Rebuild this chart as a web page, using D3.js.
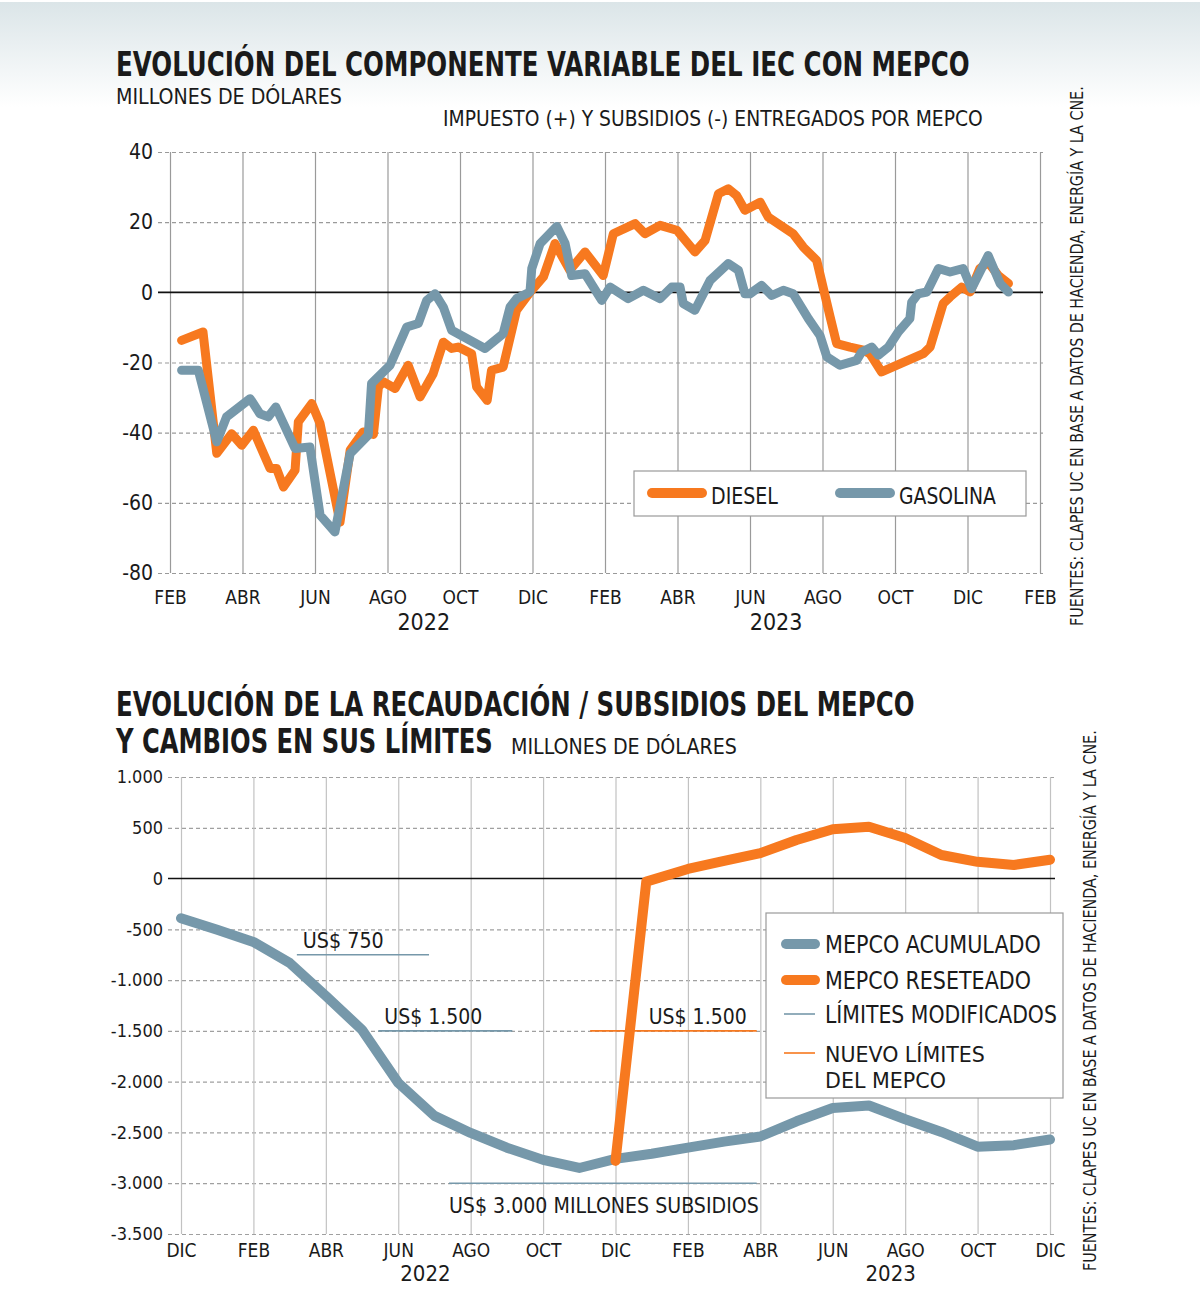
<!DOCTYPE html>
<html>
<head>
<meta charset="utf-8">
<script src="https://cdn.jsdelivr.net/npm/d3@7"></script>
<style>
	body { margin: 0; background: #fff; }
	svg text { font-family: 'Liberation Sans Narrow', 'DejaVu Sans Condensed', 'Roboto', sans-serif; fill: #1a1a1a; }
</style>
</head>
<body>
<svg id="chart" width="1200" height="1315"></svg>
<script>
const orange = '#f7791f'
const grey = '#7698aa'
const sourceText = 'FUENTES: CLAPES UC EN BASE A DATOS DE HACIENDA, ENERGÍA Y LA CNE.'

// top chart: months counted from feb 2022
const topTicks = [0, 2, 4, 6, 8, 10, 12, 14, 16, 18, 20, 22, 24]
const topMonthLabels = ['FEB', 'ABR', 'JUN', 'AGO', 'OCT', 'DIC', 'FEB', 'ABR', 'JUN', 'AGO', 'OCT', 'DIC', 'FEB']
const topYears = ['2022', '2023']
const topYValues = [-80, -60, -40, -20, 0, 20, 40]

const dieselMonth = [0.32, 0.91, 1.29, 1.70, 1.98, 2.30, 2.76, 2.94, 3.13, 3.45, 3.54, 3.91, 4.14, 4.69, 4.97, 5.33, 5.61, 5.75, 5.88, 6.21, 6.57, 6.90, 7.26, 7.54, 7.77, 7.95, 8.32, 8.46, 8.75, 8.87, 9.19, 9.56, 9.93, 10.30, 10.62, 11.03, 11.45, 11.95, 12.23, 12.83, 13.10, 13.52, 13.98, 14.48, 14.76, 15.13, 15.40, 15.63, 15.86, 16.28, 16.50, 17.19, 17.47, 17.84, 18.21, 18.39, 18.76, 19.13, 19.31, 19.63, 20.78, 20.97, 21.33, 21.52, 21.84, 22.07, 22.34, 22.57, 22.85, 23.13]
const dieselValue = [-13.7, -11.3, -45.9, -40.3, -43.6, -39.3, -50.2, -50.2, -55.5, -50.7, -36.9, -31.7, -37.4, -65.5, -45, -39.8, -40.5, -27, -25.5, -27.4, -20.8, -29.8, -23.2, -14.2, -16, -15.6, -17.5, -27, -30.8, -22.2, -21.3, -5.1, 0, 4.4, 13.9, 6.3, 11.5, 4.8, 16.7, 19.6, 16.7, 19.1, 17.7, 11.5, 14.8, 28.1, 29.5, 27.6, 23.4, 25.7, 21.5, 16.7, 12.9, 9.1, -7, -14.6, -15.6, -16.5, -17.5, -22.7, -17.5, -15.6, -3.2, -1.3, 1.5, 0.1, 6.8, 8.6, 4.8, 2.5]

const gasolinaMonth = [0.32, 0.78, 1.29, 1.56, 2.21, 2.48, 2.71, 2.92, 3.45, 3.86, 4.14, 4.55, 4.97, 5.47, 5.56, 6.07, 6.53, 6.85, 7.08, 7.31, 7.54, 7.77, 8.69, 9.19, 9.38, 9.56, 9.93, 9.98, 10.21, 10.67, 10.90, 11.08, 11.45, 11.91, 12.14, 12.64, 13.06, 13.52, 13.84, 14.07, 14.16, 14.48, 14.90, 15.40, 15.68, 15.86, 16.00, 16.32, 16.60, 16.92, 17.19, 17.61, 17.93, 18.12, 18.48, 18.94, 19.08, 19.36, 19.54, 19.82, 20.09, 20.41, 20.46, 20.64, 20.88, 21.20, 21.52, 21.88, 22.11, 22.57, 22.90, 23.13]
const gasolinaValue = [-22.2, -22.2, -42.6, -35.5, -30.3, -34.6, -35.5, -32.7, -44.5, -44.1, -63.5, -68.3, -46, -40.7, -26, -20.8, -9.9, -8.9, -2.3, -0.4, -4.2, -10.8, -16, -11.8, -4.2, -1.8, 0.1, 6.8, 13.9, 18.8, 13.9, 4.8, 5.3, -2.3, 1.5, -1.8, 0.6, -1.8, 1.5, 1.5, -3.2, -5.1, 3.4, 8.2, 6.3, -0.4, -0.4, 2, -0.9, 0.6, -0.4, -7.5, -12.3, -18.4, -20.8, -19.4, -17, -15.6, -17.9, -15.6, -11.3, -7.5, -2.8, -0.4, 0.1, 6.8, 5.8, 6.8, 1, 10.5, 2.5, 0.1]

// bottom chart: months counted from dic 2021
const botTicks = [0, 2, 4, 6, 8, 10, 12, 14, 16, 18, 20, 22, 24]
const botMonthLabels = ['DIC', 'FEB', 'ABR', 'JUN', 'AGO', 'OCT', 'DIC', 'FEB', 'ABR', 'JUN', 'AGO', 'OCT', 'DIC']
const botYears = ['2022', '2023']
const botYValues = [-3500, -3000, -2500, -2000, -1500, -1000, -500, 0, 500, 1000]

const acumuladoMonth = [0, 1, 2, 3, 4, 5, 6, 7, 8, 9, 10, 11, 12, 13, 14, 15, 16, 17, 18, 19, 20, 21, 22, 23, 24]
const mepcoAcumulado = [-390, -505, -624, -830, -1155, -1490, -2012, -2337, -2505, -2650, -2770, -2850, -2760, -2710, -2650, -2590, -2540, -2390, -2260, -2235, -2370, -2495, -2640, -2625, -2570]
const reseteadoMonth = [12, 12.85, 14, 15, 16, 17, 18, 19, 20, 21, 22, 23, 24]
const mepcoReseteado = [-2780, -30, 95, 175, 250, 380, 485, 510, 400, 232, 165, 134, 185]

const limitLabels = ['US$ 750', 'US$ 1.500', 'US$ 1.500', 'US$ 3.000 MILLONES SUBSIDIOS']
const limitValues = [-750, -1500, -1500, -3000]
const limitFrom = [3.2, 5.45, 11.3, 7.4]
const limitTo = [6.85, 9.15, 15.9, 15.9]
const limitKind = ['modificado', 'modificado', 'nuevo', 'modificado']

const svg = d3.select('#chart')

// soft band behind the first title
const grad = svg.append('defs').append('linearGradient')
	.attr('id', 'band')
	.attr('x1', 0).attr('y1', 0).attr('x2', 0).attr('y2', 1);
grad.append('stop').attr('offset', '0%').attr('stop-color', '#dbe5e8');
grad.append('stop').attr('offset', '100%').attr('stop-color', '#ffffff');
svg.append('rect')
	.attr('x', 0).attr('y', 2)
	.attr('width', 1200).attr('height', 105)
	.attr('fill', 'url(#band)');

function styleGrid(g, colour, dashed) {
	g.select('.domain').remove();
	g.selectAll('.tick line')
		.attr('stroke', colour)
		.attr('stroke-width', 1.2)
		.attr('stroke-dasharray', dashed ? '4,3' : null);
}

// squeeze a text horizontally (about its anchor) to the width it has in the print
function fit(sel, w) {
	const n = sel.node().getComputedTextLength();
	const x0 = +sel.attr('x') || 0;
	const prev = sel.attr('transform') || '';
	sel.attr('transform', `${prev} translate(${x0},0) scale(${w / n},1) translate(${-x0},0)`);
	return sel;
}

function drawTop() {
	const x = d3.scaleLinear().domain([0, 24]).range([170, 1040]);
	const y = d3.scaleLinear().domain([-80, 40]).range([573, 152]);
	const g = svg.append('g');

	fit(svg.append('text').attr('x', 116).attr('y', 76)
		.attr('font-size', 34).attr('font-weight', 'bold')
		.text('EVOLUCIÓN DEL COMPONENTE VARIABLE DEL IEC CON MEPCO'), 854);
	fit(svg.append('text').attr('x', 116).attr('y', 104)
		.attr('font-size', 22)
		.text('MILLONES DE DÓLARES'), 226);
	fit(svg.append('text').attr('x', 443).attr('y', 126)
		.attr('font-size', 22)
		.text('IMPUESTO (+) Y SUBSIDIOS (-) ENTREGADOS POR MEPCO'), 540);

	// horizontal dashed grid
	g.append('g')
		.attr('transform', 'translate(158, 0)')
		.call(d3.axisLeft(y).tickValues(topYValues.filter(d => d !== 0)).tickSize(-(1043 - 158)).tickFormat(''))
		.call(gg => styleGrid(gg, '#9a9a9a', true));

	// vertical grid + month labels
	const xAxis = g.append('g')
		.attr('transform', `translate(0, ${y(-80)})`)
		.call(d3.axisBottom(x).tickValues(topTicks).tickSize(-(y(-80) - y(40)))
			.tickPadding(18).tickFormat((d, i) => topMonthLabels[i]))
		.call(gg => styleGrid(gg, '#9a9a9a', false));
	xAxis.selectAll('text').attr('font-size', 19).attr('fill', '#1a1a1a');

	const yAxis = g.append('g')
		.attr('transform', 'translate(158, 0)')
		.call(d3.axisLeft(y).tickValues(topYValues).tickSize(0).tickPadding(5).tickFormat(d => String(d)));
	yAxis.select('.domain').remove();
	yAxis.selectAll('text').attr('font-size', 21).attr('fill', '#1a1a1a');

	g.append('line')
		.attr('x1', 158).attr('x2', 1043)
		.attr('y1', y(0)).attr('y2', y(0))
		.attr('stroke', '#111').attr('stroke-width', 1.6);

	g.selectAll('.year')
		.data(topYears)
		.enter().append('text')
			.attr('x', (d, i) => x(i === 0 ? 7 : 16.72))
			.attr('y', 630)
			.attr('text-anchor', 'middle')
			.attr('font-size', 23)
			.text(d => d);

	const line = d3.line().x(d => x(d[0])).y(d => y(d[1]));
	[[d3.zip(dieselMonth, dieselValue), orange], [d3.zip(gasolinaMonth, gasolinaValue), grey]].forEach(s => {
		g.append('path')
			.attr('d', line(s[0]))
			.attr('fill', 'none')
			.attr('stroke', s[1])
			.attr('stroke-width', 9)
			.attr('stroke-linejoin', 'round')
			.attr('stroke-linecap', 'round');
	});

	// legend
	const leg = g.append('g');
	leg.append('rect')
		.attr('x', 634).attr('y', 471).attr('width', 392).attr('height', 45)
		.attr('fill', '#fff').attr('stroke', '#9a9a9a').attr('stroke-width', 1.2);
	[['DIESEL', orange, 652, 67], ['GASOLINA', grey, 840, 97]].forEach(l => {
		leg.append('line')
			.attr('x1', l[2]).attr('x2', l[2] + 50)
			.attr('y1', 493).attr('y2', 493)
			.attr('stroke', l[1]).attr('stroke-width', 10).attr('stroke-linecap', 'round');
		fit(leg.append('text')
			.attr('x', l[2] + 59).attr('y', 504)
			.attr('font-size', 23)
			.text(l[0]), l[3]);
	});

	fit(svg.append('text')
		.attr('transform', 'translate(1083, 626) rotate(-90)')
		.attr('font-size', 17)
		.text(sourceText), 540);
}

function drawBottom() {
	const x = d3.scaleLinear().domain([0, 24]).range([181, 1050]);
	const y = d3.scaleLinear().domain([-3500, 1000]).range([1234, 777]);
	const g = svg.append('g');
	const fmt = d3.formatLocale({decimal: ',', thousands: '.', grouping: [3], currency: ['$', ''], minus: '-'}).format(',');

	fit(svg.append('text').attr('x', 116).attr('y', 716)
		.attr('font-size', 34).attr('font-weight', 'bold')
		.text('EVOLUCIÓN DE LA RECAUDACIÓN / SUBSIDIOS DEL MEPCO'), 799);
	fit(svg.append('text').attr('x', 116).attr('y', 753)
		.attr('font-size', 34).attr('font-weight', 'bold')
		.text('Y CAMBIOS EN SUS LÍMITES'), 377);
	fit(svg.append('text').attr('x', 511).attr('y', 754)
		.attr('font-size', 22)
		.text('MILLONES DE DÓLARES'), 226);

	g.append('g')
		.attr('transform', 'translate(168, 0)')
		.call(d3.axisLeft(y).tickValues(botYValues.filter(d => d !== 0)).tickSize(-(1055 - 168)).tickFormat(''))
		.call(gg => styleGrid(gg, '#a0a0a0', true));

	const xAxis = g.append('g')
		.attr('transform', `translate(0, ${y(-3500)})`)
		.call(d3.axisBottom(x).tickValues(botTicks).tickSize(-(y(-3500) - y(1000)))
			.tickPadding(10).tickFormat((d, i) => botMonthLabels[i]))
		.call(gg => styleGrid(gg, '#c2c2c2', false));
	xAxis.selectAll('text').attr('font-size', 19).attr('fill', '#1a1a1a');

	const yAxis = g.append('g')
		.attr('transform', 'translate(166, 0)')
		.call(d3.axisLeft(y).tickValues(botYValues).tickSize(0).tickPadding(3).tickFormat(fmt));
	yAxis.select('.domain').remove();
	yAxis.selectAll('text').attr('font-size', 18).attr('fill', '#1a1a1a');

	g.append('line')
		.attr('x1', 168).attr('x2', 1055)
		.attr('y1', y(0)).attr('y2', y(0))
		.attr('stroke', '#111').attr('stroke-width', 1.6);

	g.selectAll('.year')
		.data(botYears)
		.enter().append('text')
			.attr('x', (d, i) => x(i === 0 ? 6.75 : 19.6))
			.attr('y', 1281)
			.attr('text-anchor', 'middle')
			.attr('font-size', 22)
			.text(d => d);

	// limit lines with their labels
	const limitWidths = [81, 98, 98, 310];
	limitLabels.forEach((lab, i) => {
		const colour = limitKind[i] === 'nuevo' ? orange : grey;
		const yy = y(limitValues[i]);
		g.append('line')
			.attr('x1', x(limitFrom[i])).attr('x2', x(limitTo[i]))
			.attr('y1', yy).attr('y2', yy)
			.attr('stroke', colour).attr('stroke-width', 1.6);
		const below = i === limitLabels.length - 1;
		const t = g.append('text')
			.attr('font-size', 22)
			.attr('y', below ? yy + 30 : yy - 7)
			.text(lab);
		if (limitKind[i] === 'nuevo') {
			t.attr('x', x(limitTo[i]) - 10).attr('text-anchor', 'end');
		} else {
			t.attr('x', x(limitFrom[i]) + (below ? 0 : 6));
		}
		fit(t, limitWidths[i]);
	});

	const line = d3.line().x(d => x(d[0])).y(d => y(d[1]));
	[[d3.zip(acumuladoMonth, mepcoAcumulado), grey], [d3.zip(reseteadoMonth, mepcoReseteado), orange]].forEach(s => {
		g.append('path')
			.attr('d', line(s[0]))
			.attr('fill', 'none')
			.attr('stroke', s[1])
			.attr('stroke-width', 10)
			.attr('stroke-linejoin', 'round')
			.attr('stroke-linecap', 'round');
	});

	// legend
	const leg = g.append('g');
	leg.append('rect')
		.attr('x', 766).attr('y', 913).attr('width', 297).attr('height', 185)
		.attr('fill', '#fff').attr('stroke', '#9a9a9a').attr('stroke-width', 1.2);
	const items = [
		{label: ['MEPCO ACUMULADO'], lw: [216], colour: grey, w: 10, y: 944},
		{label: ['MEPCO RESETEADO'], lw: [206], colour: orange, w: 10, y: 980},
		{label: ['LÍMITES MODIFICADOS'], lw: [232], colour: grey, w: 1.6, y: 1014},
		{label: ['NUEVO LÍMITES', 'DEL MEPCO'], lw: [160, 121], colour: orange, w: 1.6, y: 1053}
	];
	items.forEach(it => {
		const thick = it.w > 5;
		leg.append('line')
			.attr('x1', thick ? 786 : 784).attr('x2', 815)
			.attr('y1', it.y).attr('y2', it.y)
			.attr('stroke', it.colour).attr('stroke-width', it.w)
			.attr('stroke-linecap', thick ? 'round' : 'butt');
		it.label.forEach((l, j) => {
			fit(leg.append('text')
				.attr('x', 825).attr('y', it.y + 9 + j * 26)
				.attr('font-size', it.label.length > 1 ? 22 : 24)
				.text(l), it.lw[j]);
		});
	});

	fit(svg.append('text')
		.attr('transform', 'translate(1096, 1271) rotate(-90)')
		.attr('font-size', 17)
		.text(sourceText), 541);
}

drawTop();
drawBottom();
</script>
</body>
</html>
